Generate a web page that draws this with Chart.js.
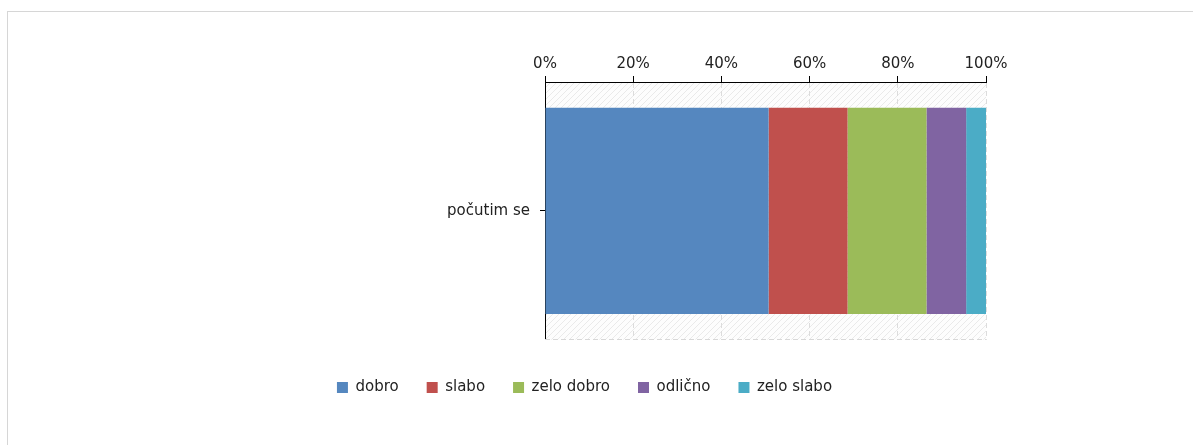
<!DOCTYPE html>
<html>
<head>
<meta charset="utf-8">
<script src="https://cdn.jsdelivr.net/npm/chart.js@4.4.1/dist/chart.umd.min.js"></script>
<style>
  html, body { margin: 0; padding: 0; background: #fff; overflow: hidden; }
  #wrap { position: relative; width: 1193px; height: 445px; }
  #frame { position: absolute; left: 7px; top: 11px; width: 1300px; height: 600px; border: 1px solid #d6d6d6; box-sizing: border-box; }
  canvas { position: absolute; left: 0; top: 0; }
</style>
</head>
<body>
<div id="wrap">
  <div id="frame"></div>
  <canvas id="c" width="1193" height="445"></canvas>
</div>
<script>
const categories = ['počutim se'];
const seriesNames = ['dobro', 'slabo', 'zelo dobro', 'odlično', 'zelo slabo'];
const dobro = [50.7];
const slabo = [17.9];
const zeloDobro = [17.9];
const odlicno = [9.0];
const zeloSlabo = [4.5];
const tickValues = [0, 20, 40, 60, 80, 100];
const colors = ['#5587BF', '#C0504D', '#9BBB59', '#8064A2', '#4BACC6'];

const seriesValues = [dobro, slabo, zeloDobro, odlicno, zeloSlabo];
const FONT = "'DejaVu Sans', Verdana, sans-serif";

const hatchPlugin = {
  id: 'hatch',
  beforeDraw(chart) {
    const a = chart.chartArea;
    const ctx = chart.ctx;
    ctx.save();
    ctx.beginPath();
    ctx.rect(a.left, a.top, a.right - a.left, a.bottom - a.top);
    ctx.clip();
    ctx.fillStyle = '#fdfdfd';
    ctx.fillRect(a.left, a.top, a.right - a.left, a.bottom - a.top);
    ctx.strokeStyle = '#eaeaea';
    ctx.lineWidth = 1;
    const h = a.bottom - a.top;
    for (let x = a.left - h; x < a.right + h; x += 6) {
      ctx.beginPath();
      ctx.moveTo(x, a.bottom);
      ctx.lineTo(x + h, a.top);
      ctx.stroke();
    }
    ctx.restore();
  },
  afterDraw(chart) {
    const a = chart.chartArea;
    const ctx = chart.ctx;
    ctx.save();
    ctx.strokeStyle = '#d8d8d8';
    ctx.setLineDash([5, 3]);
    ctx.lineWidth = 1;
    ctx.beginPath();
    ctx.moveTo(a.left, Math.round(a.bottom) - 0.5);
    ctx.lineTo(a.right, Math.round(a.bottom) - 0.5);
    ctx.stroke();
    ctx.restore();
  }
};

new Chart(document.getElementById('c'), {
  type: 'bar',
  data: {
    labels: categories,
    datasets: seriesNames.map((n, i) => ({
      label: n,
      data: seriesValues[i],
      backgroundColor: colors[i],
      borderWidth: 0,
      barPercentage: 0.8,
      categoryPercentage: 1.0
    }))
  },
  options: {
    indexAxis: 'y',
    responsive: false,
    animation: false,
    devicePixelRatio: 1,
    layout: { padding: { left: 183, right: 207, top: 0, bottom: 40 } },
    scales: {
      x: {
        position: 'top',
        stacked: true,
        min: 0,
        max: 100,
        afterBuildTicks(scale) { scale.ticks = tickValues.map(v => ({ value: v })); },
        afterFit(scale) { scale.height = 82; },
        ticks: {
          callback: v => v + '%',
          color: '#222',
          font: { family: FONT, size: 15 },
          padding: 3,
          maxRotation: 0
        },
        grid: {
          color: '#dcdcdc',
          tickColor: '#000',
          tickLength: 6,
          tickBorderDash: [],
          drawOnChartArea: true
        },
        border: { display: true, color: '#000', width: 1, dash: [5, 3] }
      },
      y: {
        stacked: true,
        afterFit(scale) { scale.width = 362; },
        ticks: {
          color: '#222',
          font: { family: FONT, size: 15 },
          padding: 10
        },
        grid: {
          drawOnChartArea: false,
          offset: false,
          color: '#000',
          tickLength: 5
        },
        border: { display: true, color: '#000', width: 1 }
      }
    },
    plugins: {
      legend: {
        position: 'bottom',
        title: { display: true, text: '', font: { size: 1 }, padding: { top: 11, bottom: 0 } },
        labels: {
          boxWidth: 11,
          boxHeight: 11,
          padding: 28,
          color: '#222',
          font: { family: FONT, size: 15 }
        }
      },
      tooltip: { enabled: false }
    }
  },
  plugins: [hatchPlugin]
});
</script>
</body>
</html>
